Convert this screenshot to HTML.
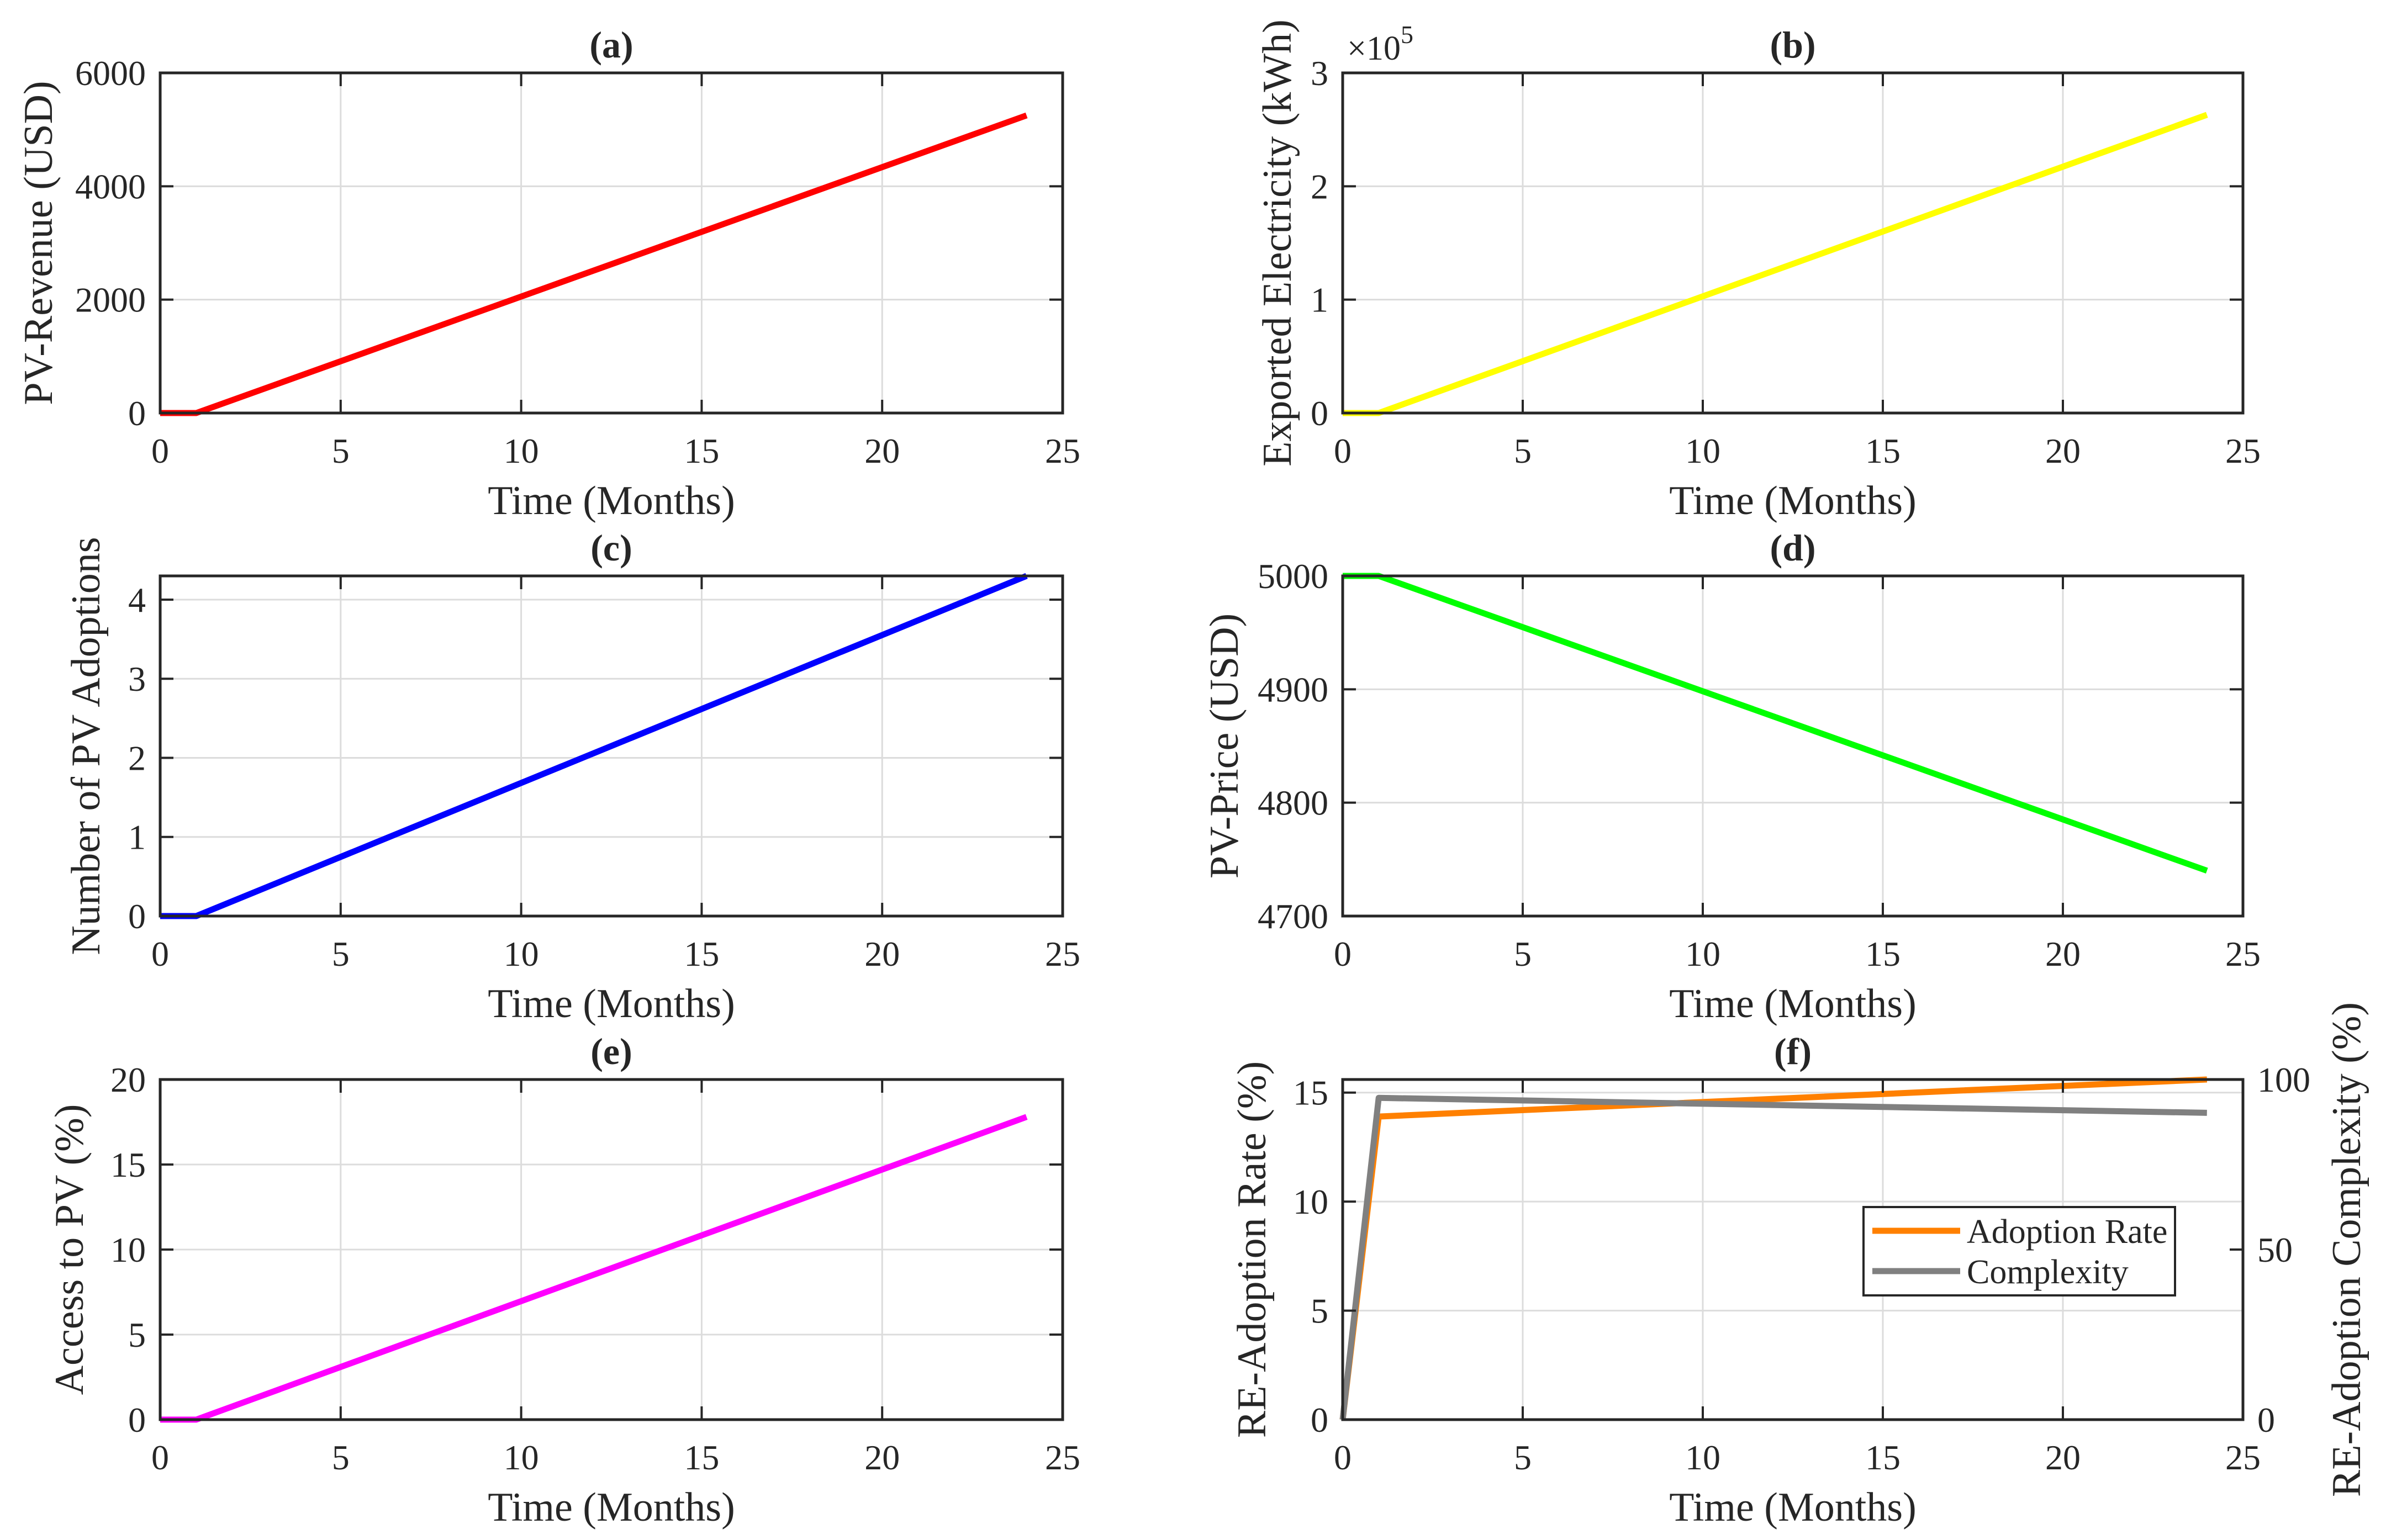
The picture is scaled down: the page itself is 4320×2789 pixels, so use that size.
<!DOCTYPE html>
<html><head><meta charset="utf-8"><style>
html,body{margin:0;padding:0;background:#fff;}
svg{display:block;}
text{font-family:"Liberation Serif","Times New Roman",serif;fill:#262626;}
</style></head><body>
<svg id="fig" width="4320" height="2789" viewBox="0 0 4320 2789" xmlns="http://www.w3.org/2000/svg"></svg>
<script>
// ---- data ----
const xTicks = [0, 5, 10, 15, 20, 25];
const aMonths = [0, 1, 24];
const aRevenue = [0, 0, 5250];
const aYTicks = [0, 2000, 4000, 6000];
const bMonths = [0, 1, 24];
const bExported = [0, 0, 2.63];
const bYTicks = [0, 1, 2, 3];
const cMonths = [0, 1, 24];
const cAdoptions = [0, 0, 4.3];
const cYTicks = [0, 1, 2, 3, 4];
const dMonths = [0, 1, 24];
const dPrice = [5000, 5000, 4740];
const dYTicks = [4700, 4800, 4900, 5000];
const eMonths = [0, 1, 24];
const eAccess = [0, 0, 17.8];
const eYTicks = [0, 5, 10, 15, 20];
const fMonths = [0, 1, 24];
const fAdoptionRate = [0, 13.9, 15.6];
const fComplexity = [0, 94.6, 90.2];
const fYTicks = [0, 5, 10, 15];
const fY2Ticks = [0, 50, 100];

const svg = document.getElementById('fig');
const NS = 'http://www.w3.org/2000/svg';
function mk(tag, attrs, parent) {
  const e = document.createElementNS(NS, tag);
  for (const k in attrs) e.setAttribute(k, attrs[k]);
  (parent || svg).appendChild(e);
  return e;
}
const H = 616;
const colX = [290, 2431];
const colW = [1634, 1630];
const rowY = [132, 1043, 1955];

function panel(opt) {
  const W = opt.width;
  const L = opt.left, T = opt.top, R = L + W, B = T + H;
  const g = mk('g', {});
  
  
  const sx = v => L + (v - 0) / (25 - 0) * W;
  const sy = v => B - (v - opt.ymin) / (opt.ymax - opt.ymin) * H;
  const sy2 = v => B - (v - 0) / (100 - 0) * H;
  mk('rect', {x: L, y: T, width: W, height: H, fill: '#fff'}, g);
  xTicks.forEach(t => {
    if (t > 0 && t < 25) {
      const l = mk('line', {x1: sx(t), x2: sx(t), y1: T, y2: B, stroke: '#dcdcdc', 'stroke-width': 3}, g);
      
      
    }
  });
  opt.yticks.forEach(t => {
    const y = sy(t);
    if (y > T + 1 && y < B - 1) {
      const l = mk('line', {x1: L, x2: R, y1: y, y2: y, stroke: '#dcdcdc', 'stroke-width': 3}, g);
      
      
    }
  });
  opt.series.forEach(s => {
    const f = s.right ? sy2 : sy;
    const pts = s.x.map((xv, i) => sx(xv) + ',' + f(s.y[i])).join(' ');
    const p = mk('polyline', {points: pts, fill: 'none', stroke: s.color, 'stroke-width': 11, 'stroke-linejoin': 'round'}, g);
    
    
  });
  const box = mk('rect', {x: L, y: T, width: W, height: H, fill: 'none', stroke: '#262626', 'stroke-width': 5}, g);
  
  
  xTicks.forEach(t => {
    const x = sx(t);
    mk('line', {x1: x, x2: x, y1: B, y2: B - 24, stroke: '#262626', 'stroke-width': 4}, g);
    mk('line', {x1: x, x2: x, y1: T, y2: T + 24, stroke: '#262626', 'stroke-width': 4}, g);
    const tx = mk('text', {x: x, y: B + 90, 'font-size': 64, 'text-anchor': 'middle'}, g);
    tx.textContent = t;
    
    
  });
  opt.yticks.forEach((t, i) => {
    const y = sy(t);
    mk('line', {x1: L, x2: L + 24, y1: y, y2: y, stroke: '#262626', 'stroke-width': 4}, g);
    if (!opt.right) mk('line', {x1: R, x2: R - 24, y1: y, y2: y, stroke: '#262626', 'stroke-width': 4}, g);
    const tx = mk('text', {x: L - 26, y: y + 22, 'font-size': 64, 'text-anchor': 'end'}, g);
    tx.textContent = t;
    
    
  });
  if (opt.right) {
    fY2Ticks.forEach(t => {
      const y = sy2(t);
      mk('line', {x1: R, x2: R - 24, y1: y, y2: y, stroke: '#262626', 'stroke-width': 4}, g);
      const tx = mk('text', {x: R + 26, y: y + 22, 'font-size': 64, 'text-anchor': 'start'}, g);
      tx.textContent = t;
      
      
    });
    const yl2 = mk('text', {x: 0, y: 0, 'font-size': 74, 'text-anchor': 'middle', transform: 'translate(' + (R + 212) + ',' + (T + H / 2) + ') rotate(-90)'}, g);
    yl2.textContent = opt.right;
    
    
  }
  const ti = mk('text', {x: L + W / 2, y: T - 28, 'font-size': 68, 'font-weight': 'bold', 'text-anchor': 'middle'}, g);
  ti.textContent = opt.title;
  
  
  const xl = mk('text', {x: L + W / 2, y: B + 183, 'font-size': 74, 'text-anchor': 'middle'}, g);
  xl.textContent = 'Time (Months)';
  
  
  const yl = mk('text', {x: 0, y: 0, 'font-size': 74, 'text-anchor': 'middle', transform: 'translate(' + (L - opt.ylOff) + ',' + (T + H / 2) + ') rotate(-90)'}, g);
  yl.textContent = opt.ylabel;
  
  
  return {g, L, T, R, B};
}

panel({name: 'panel-a-pv-revenue', left: colX[0], width: colW[0], top: rowY[0], ymin: 0, ymax: 6000, yticks: aYTicks, title: '(a)', ylabel: 'PV-Revenue (USD)', ylOff: 196,
  series: [{x: aMonths, y: aRevenue, color: '#ff0000', name: 'pv-revenue-line'}]});
const pb = panel({name: 'panel-b-exported-electricity', left: colX[1], width: colW[1], top: rowY[0], ymin: 0, ymax: 3, yticks: bYTicks, title: '(b)', ylabel: 'Exported Electricity (kWh)', ylOff: 94,
  series: [{x: bMonths, y: bExported, color: '#ffff00', name: 'exported-electricity-line'}]});
const mult = mk('text', {x: pb.L + 8, y: pb.T - 24, 'font-size': 62});


mult.innerHTML = '×10<tspan dy="-30" font-size="46">5</tspan>';
panel({name: 'panel-c-pv-adoptions', left: colX[0], width: colW[0], top: rowY[1], ymin: 0, ymax: 4.3, yticks: cYTicks, title: '(c)', ylabel: 'Number of PV Adoptions', ylOff: 110,
  series: [{x: cMonths, y: cAdoptions, color: '#0000ff', name: 'pv-adoptions-line'}]});
panel({name: 'panel-d-pv-price', left: colX[1], width: colW[1], top: rowY[1], ymin: 4700, ymax: 5000, yticks: dYTicks, title: '(d)', ylabel: 'PV-Price (USD)', ylOff: 190,
  series: [{x: dMonths, y: dPrice, color: '#00ff00', name: 'pv-price-line'}]});
panel({name: 'panel-e-access-to-pv', left: colX[0], width: colW[0], top: rowY[2], ymin: 0, ymax: 20, yticks: eYTicks, title: '(e)', ylabel: 'Access to PV (%)', ylOff: 140,
  series: [{x: eMonths, y: eAccess, color: '#ff00ff', name: 'access-to-pv-line'}]});
panel({name: 'panel-f-adoption-rate-complexity', left: colX[1], width: colW[1], top: rowY[2], ymin: 0, ymax: 15.6, yticks: fYTicks, title: '(f)', ylabel: 'RE-Adoption Rate (%)', ylOff: 140, right: 'RE-Adoption Complexity (%)',
  series: [{x: fMonths, y: fAdoptionRate, color: '#ff8000', name: 'adoption-rate-line'},
           {x: fMonths, y: fComplexity, color: '#808080', name: 'complexity-line', right: true}]});
const lg = mk('g', {});


mk('rect', {x: 3374, y: 2186, width: 564, height: 160, fill: '#fff', stroke: '#262626', 'stroke-width': 4}, lg);
mk('line', {x1: 3390, x2: 3549, y1: 2229, y2: 2229, stroke: '#ff8000', 'stroke-width': 11}, lg);
mk('line', {x1: 3390, x2: 3549, y1: 2302, y2: 2302, stroke: '#808080', 'stroke-width': 11}, lg);
const l1 = mk('text', {x: 3561, y: 2251, 'font-size': 62}, lg);
l1.textContent = 'Adoption Rate';


const l2 = mk('text', {x: 3561, y: 2324, 'font-size': 62}, lg);
l2.textContent = 'Complexity';


</script>
</body></html>
